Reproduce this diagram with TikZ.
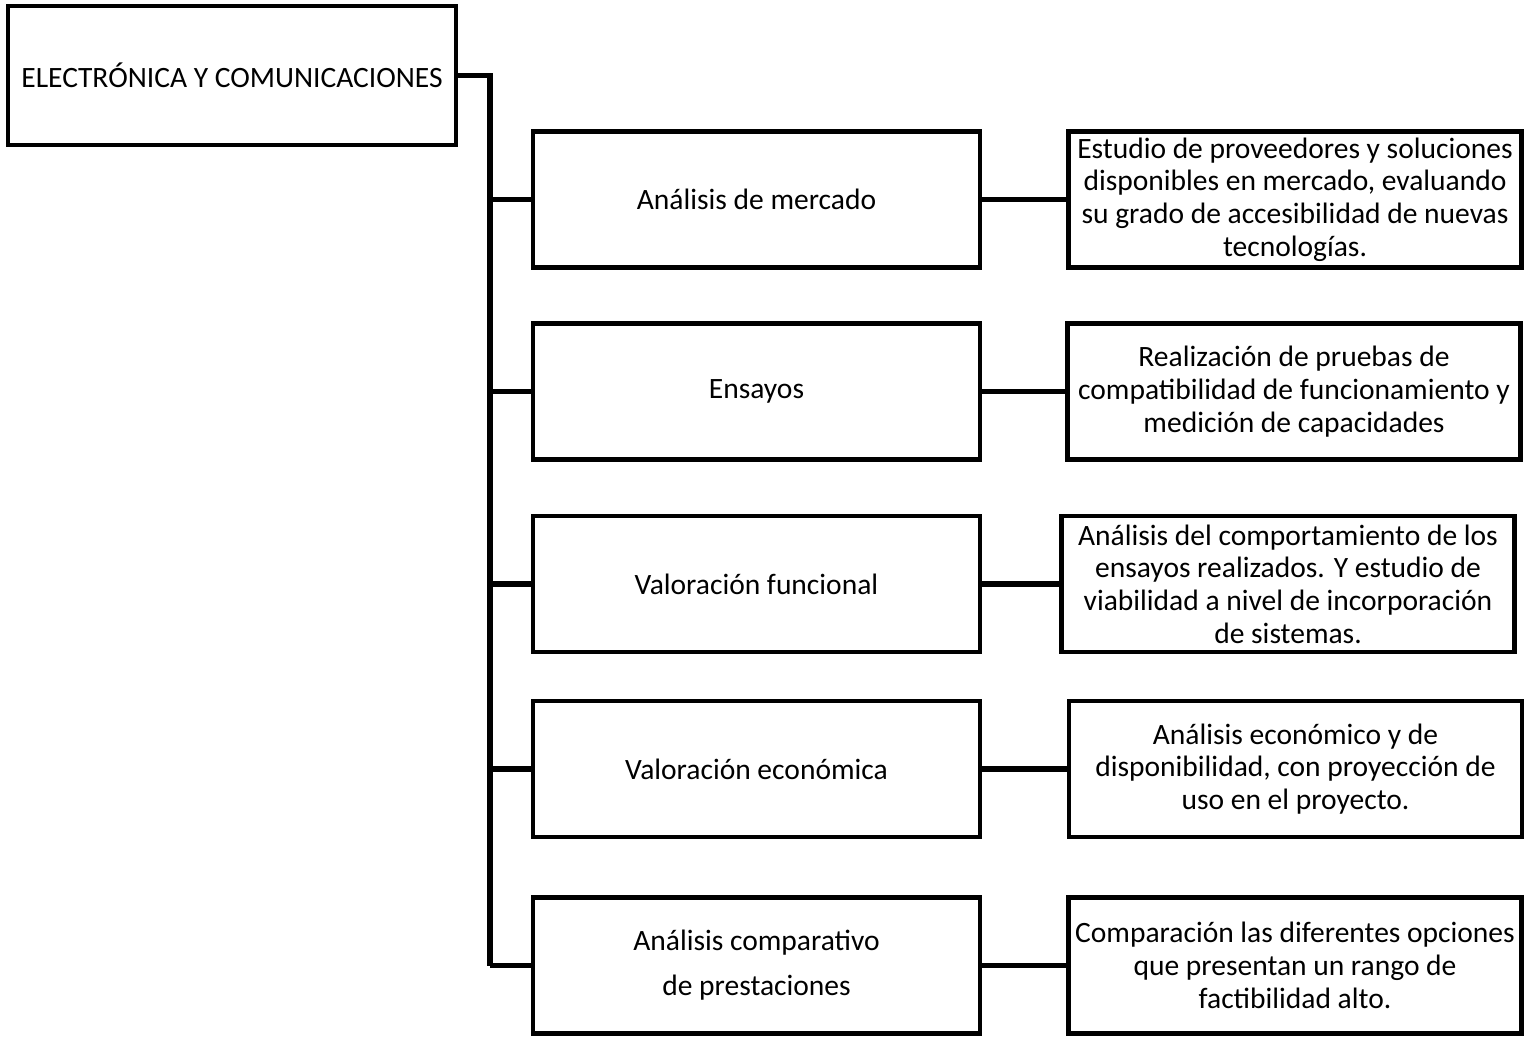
\documentclass[tikz,border=0pt]{standalone}
\usepackage{fontspec}
\setmainfont{Carlito}
\usepackage{tikz}
\usetikzlibrary{calc}
\definecolor{inkblack}{HTML}{000000}

\tikzset{
  box/.style={draw=inkblack, line width=2.4pt, fill=white, align=center, inner sep=1pt,
    font=\fontsize{16.8}{18.6}\selectfont},
  headbox/.style={box, line width=1.9pt, minimum width=8.96cm, minimum height=2.78cm},
  stagebox/.style={box, minimum width=8.94cm, minimum height=2.72cm},
  descbox/.style={box, minimum width=9.06cm, minimum height=2.72cm},
  link/.style={draw=inkblack, line width=3pt}
}

\begin{document}
\begin{tikzpicture}[x=0.02cm, y=-0.02cm]

  \useasboundingbox (0,0) rectangle (1527,1037);

  % Main area box
  \node[headbox] (head) at (232,75.5) {ELECTRÓNICA Y COMUNICACIONES};

  % Stages (middle column)
  \node[stagebox] (stage1) at (756.5,199.5) {Análisis de mercado};
  \node[stagebox] (stage2) at (756.5,391.5) {Ensayos};
  \node[stagebox] (stage3) at (756.5,584) {Valoración funcional};
  \node[stagebox] (stage4) at (756.5,769) {Valoración económica};
  \node[stagebox] (stage5) at (756.5,965.5) {Análisis comparativo\\[7pt]de prestaciones};

  % Descriptions (right column)
  \node[descbox] (desc1) at (1295,199.5) {Estudio de proveedores y soluciones\\disponibles en mercado, evaluando\\su grado de accesibilidad de nuevas\\tecnologías.};
  \node[descbox] (desc2) at (1294,391.5) {Realización de pruebas de\\compatibilidad de funcionamiento y\\medición de capacidades};
  \node[descbox] (desc3) at (1288,584) {Análisis del comportamiento de los\\ensayos realizados. Y estudio de\\viabilidad a nivel de incorporación\\de sistemas.};
  \node[descbox] (desc4) at (1295.5,769) {Análisis económico y de\\disponibilidad, con proyección de\\uso en el proyecto.};
  \node[descbox] (desc5) at (1295,965.5) {Comparación las diferentes opciones\\que presentan un rango de\\factibilidad alto.};

  % Spine from main box down to the last stage
  \coordinate (spinetop) at (490,75.5);
  \draw[link] (head.east) -- (spinetop) -- (spinetop |- stage5.west);

  % Branches and links
  \foreach \k in {1,...,5} {
    \draw[link] (stage\k.west -| spinetop) -- (stage\k.west);
    \draw[link] (stage\k.east) -- (desc\k.west);
  }

\end{tikzpicture}
\end{document}
